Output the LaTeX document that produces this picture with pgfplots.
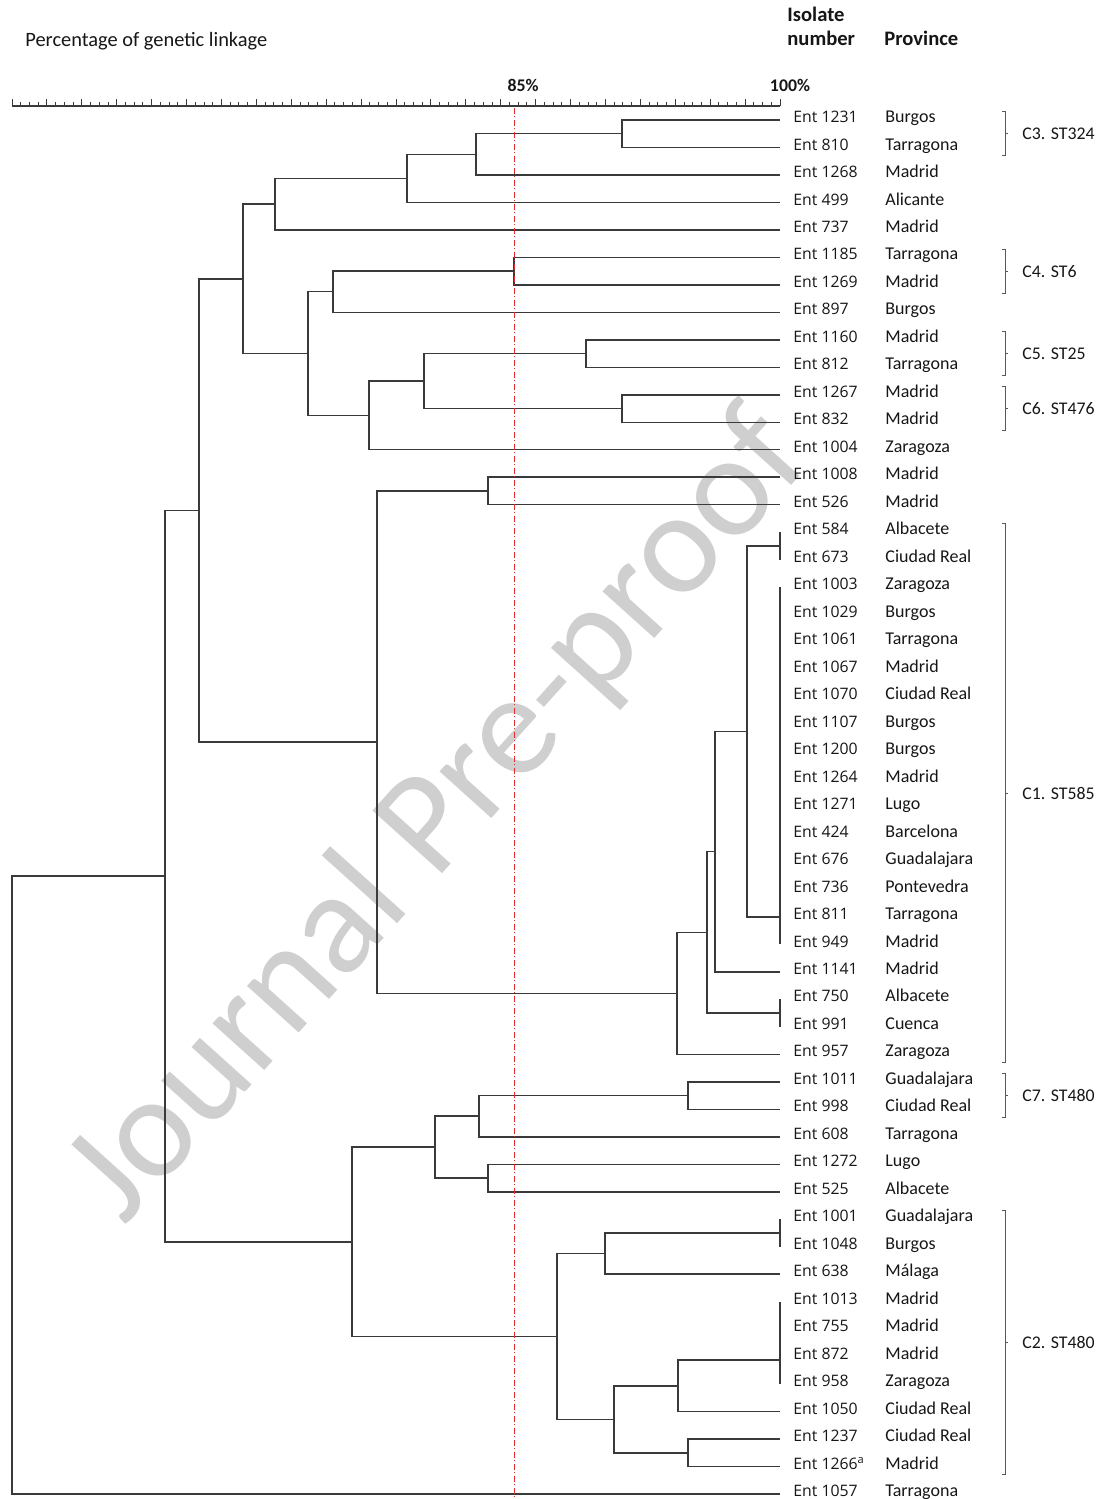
\documentclass[border=0pt]{standalone}
\usepackage{fontspec}
\setmainfont{Carlito}
\newfontfamily\entfont{Open Sans}
\usepackage{pgfplots}
\pgfplotsset{compat=1.18}
\definecolor{cut}{RGB}{222,45,45}
\definecolor{ln}{RGB}{58,58,58}
\definecolor{txt}{RGB}{22,22,22}
\newcommand\leaf[3]{%
  \node[entlab] at (axis cs:100,-#1) {#2};
  \node[provlab] at (axis cs:100,-#1) {#3};}
\newcommand\clbr[4]{%
  \draw[brk] ([xshift=111pt]axis cs:100,#1) -- ([xshift=112.5pt]axis cs:100,#1) -- ([xshift=112.5pt]axis cs:100,#2) -- ([xshift=111pt]axis cs:100,#2);
  \draw[brk] ([xshift=112.5pt]axis cs:100,#3) -- ([xshift=114pt]axis cs:100,#3);
  \node[cllab] at ([xshift=121pt]axis cs:100,#3) {#4};}
\begin{document}
\begin{tikzpicture}[
  entlab/.style={anchor=base west, xshift=6.5pt, yshift=-1.3pt, text=txt, inner sep=0pt, font=\entfont\fontsize{7.9}{9}\selectfont},
  provlab/.style={anchor=base west, xshift=52.5pt, yshift=-1.3pt, text=txt, inner sep=0pt, font=\fontsize{9}{10}\selectfont},
  cllab/.style={anchor=west, inner sep=0pt, text=txt, font=\fontsize{8.9}{10}\selectfont},
  brk/.style={draw=black!65, line width=0.5pt},
  dendro/.style={color=ln, line width=0.75pt, mark=none, line join=miter}
]
\begin{axis}[
  name=ax, scale only axis, width=384pt, height=696.5pt,
  xmin=56.689, xmax=100, ymin=-50.18, ymax=0.509,
  axis x line*=top, axis y line=none,
  x axis line style={-, line width=0.75pt, color=ln},
  xtick={56.6899,58.6586,60.6272,62.5958,64.5645,66.5331,68.5018,70.4704,72.4390,74.4077,76.3763,78.3450,80.3136,82.2822,84.2509,86.2195,88.1882,90.1568,92.1254,94.0941,96.0627,98.0314,100},
  minor xtick={57.1821,57.6742,58.1664,59.1507,59.6429,60.1350,61.1193,61.6115,62.1037,63.0880,63.5801,64.0723,65.0566,65.5488,66.0409,67.0253,67.5174,68.0096,68.9939,69.4861,69.9782,70.9625,71.4547,71.9469,72.9312,73.4233,73.9155,74.8998,75.3920,75.8841,76.8685,77.3606,77.8528,78.8371,79.3293,79.8214,80.8057,81.2979,81.7901,82.7744,83.2665,83.7587,84.7430,85.2352,85.7273,86.7117,87.2038,87.6960,88.6803,89.1725,89.6646,90.6489,91.1411,91.6333,92.6176,93.1097,93.6019,94.5862,95.0784,95.5705,96.5549,97.0470,97.5392,98.5235,99.0157,99.5078},
  xticklabels={},
  tick align=outside, major tick length=3.5pt, minor tick length=2pt,
  tick style={color=ln, line width=0.5pt},
  clip=false,
]
% watermark
\node[rotate=48, text=black!19, inner sep=0pt, font=\fontsize{73}{73}\selectfont] at (axis cs:80.83,-25.4) {Journal Pre-proof};

% dendrogram
\addplot[dendro] coordinates {(100,0) (91.09,0) (91.09,-1) (100,-1)};
\addplot[dendro] coordinates {(91.09,-0.5) (82.86,-0.5) (82.86,-2) (100,-2)};
\addplot[dendro] coordinates {(82.86,-1.25) (78.97,-1.25) (78.97,-3) (100,-3)};
\addplot[dendro] coordinates {(78.97,-2.125) (71.52,-2.125) (71.52,-4) (100,-4)};
\addplot[dendro] coordinates {(100,-5) (85,-5) (85,-6) (100,-6)};
\addplot[dendro] coordinates {(85,-5.5) (74.79,-5.5) (74.79,-7) (100,-7)};
\addplot[dendro] coordinates {(100,-8) (89.06,-8) (89.06,-9) (100,-9)};
\addplot[dendro] coordinates {(100,-10) (91.09,-10) (91.09,-11) (100,-11)};
\addplot[dendro] coordinates {(89.06,-8.5) (79.92,-8.5) (79.92,-10.5) (91.09,-10.5)};
\addplot[dendro] coordinates {(79.92,-9.5) (76.82,-9.5) (76.82,-12) (100,-12)};
\addplot[dendro] coordinates {(74.79,-6.25) (73.38,-6.25) (73.38,-10.75) (76.82,-10.75)};
\addplot[dendro] coordinates {(71.52,-3.0625) (69.72,-3.0625) (69.72,-8.5) (73.38,-8.5)};
\addplot[dendro] coordinates {(100,-13) (83.53,-13) (83.53,-14) (100,-14)};
\addplot[dendro] coordinates {(100,-15) (100,-16)};
\addplot[dendro] coordinates {(100,-17) (100,-30)};
\addplot[dendro] coordinates {(100,-15.5) (98.14,-15.5) (98.14,-29) (100,-29)};
\addplot[dendro] coordinates {(98.14,-22.25) (96.33,-22.25) (96.33,-31) (100,-31)};
\addplot[dendro] coordinates {(100,-32) (100,-33)};
\addplot[dendro] coordinates {(96.33,-26.625) (95.88,-26.625) (95.88,-32.5) (100,-32.5)};
\addplot[dendro] coordinates {(95.88,-29.5625) (94.19,-29.5625) (94.19,-34) (100,-34)};
\addplot[dendro] coordinates {(83.53,-13.5) (77.27,-13.5) (77.27,-31.78125) (94.19,-31.78125)};
\addplot[dendro] coordinates {(69.72,-5.78125) (67.24,-5.78125) (67.24,-22.640625) (77.27,-22.640625)};
\addplot[dendro] coordinates {(100,-35) (94.81,-35) (94.81,-36) (100,-36)};
\addplot[dendro] coordinates {(94.81,-35.5) (83.03,-35.5) (83.03,-37) (100,-37)};
\addplot[dendro] coordinates {(100,-38) (83.53,-38) (83.53,-39) (100,-39)};
\addplot[dendro] coordinates {(83.03,-36.25) (80.54,-36.25) (80.54,-38.5) (83.53,-38.5)};
\addplot[dendro] coordinates {(100,-40) (100,-41)};
\addplot[dendro] coordinates {(100,-40.5) (90.13,-40.5) (90.13,-42) (100,-42)};
\addplot[dendro] coordinates {(100,-43) (100,-46)};
\addplot[dendro] coordinates {(100,-45.125) (94.25,-45.125) (94.25,-47) (100,-47)};
\addplot[dendro] coordinates {(100,-48) (94.81,-48) (94.81,-49) (100,-49)};
\addplot[dendro] coordinates {(94.25,-46.0625) (90.64,-46.0625) (90.64,-48.5) (94.81,-48.5)};
\addplot[dendro] coordinates {(90.13,-41.25) (87.42,-41.25) (87.42,-47.28125) (90.64,-47.28125)};
\addplot[dendro] coordinates {(80.54,-37.375) (75.86,-37.375) (75.86,-44.265625) (87.42,-44.265625)};
\addplot[dendro] coordinates {(67.24,-14.2109375) (65.32,-14.2109375) (65.32,-40.8203125) (75.86,-40.8203125)};
\addplot[dendro] coordinates {(65.32,-27.515625) (56.69,-27.515625) (56.69,-50) (100,-50)};

% cut-off line
\addplot[color=cut, line width=0.5pt, dash pattern=on 3pt off 1.2pt on 0.6pt off 1.2pt] coordinates {(85,0.44) (85,-50.18)};

% header texts
\node[anchor=base west, inner sep=0pt, text=txt, font=\fontsize{10.2}{12}\selectfont] at ([xshift=-377.5pt, yshift=36.5pt]axis cs:100,0) {Percentage of genetic linkage};
\node[anchor=base west, inner sep=0pt, text=txt, font=\bfseries\fontsize{10.3}{12}\selectfont] at ([xshift=3.5pt, yshift=49.2pt]axis cs:100,0) {Isolate};
\node[anchor=base west, inner sep=0pt, text=txt, font=\bfseries\fontsize{10.3}{12}\selectfont] at ([xshift=3.5pt, yshift=37pt]axis cs:100,0) {number};
\node[anchor=base west, inner sep=0pt, text=txt, font=\bfseries\fontsize{10.3}{12}\selectfont] at ([xshift=52pt, yshift=37pt]axis cs:100,0) {Province};
\node[anchor=base, inner sep=0pt, text=txt, font=\bfseries\fontsize{8.9}{10}\selectfont] at ([xshift=4.5pt, yshift=14.2pt]axis cs:85,0) {85\%};
\node[anchor=base, inner sep=0pt, text=txt, font=\bfseries\fontsize{8.9}{10}\selectfont] at ([xshift=5pt, yshift=14.2pt]axis cs:100,0) {100\%};

% leaves
\leaf{0}{Ent 1231}{Burgos}
\leaf{1}{Ent 810}{Tarragona}
\leaf{2}{Ent 1268}{Madrid}
\leaf{3}{Ent 499}{Alicante}
\leaf{4}{Ent 737}{Madrid}
\leaf{5}{Ent 1185}{Tarragona}
\leaf{6}{Ent 1269}{Madrid}
\leaf{7}{Ent 897}{Burgos}
\leaf{8}{Ent 1160}{Madrid}
\leaf{9}{Ent 812}{Tarragona}
\leaf{10}{Ent 1267}{Madrid}
\leaf{11}{Ent 832}{Madrid}
\leaf{12}{Ent 1004}{Zaragoza}
\leaf{13}{Ent 1008}{Madrid}
\leaf{14}{Ent 526}{Madrid}
\leaf{15}{Ent 584}{Albacete}
\leaf{16}{Ent 673}{Ciudad Real}
\leaf{17}{Ent 1003}{Zaragoza}
\leaf{18}{Ent 1029}{Burgos}
\leaf{19}{Ent 1061}{Tarragona}
\leaf{20}{Ent 1067}{Madrid}
\leaf{21}{Ent 1070}{Ciudad Real}
\leaf{22}{Ent 1107}{Burgos}
\leaf{23}{Ent 1200}{Burgos}
\leaf{24}{Ent 1264}{Madrid}
\leaf{25}{Ent 1271}{Lugo}
\leaf{26}{Ent 424}{Barcelona}
\leaf{27}{Ent 676}{Guadalajara}
\leaf{28}{Ent 736}{Pontevedra}
\leaf{29}{Ent 811}{Tarragona}
\leaf{30}{Ent 949}{Madrid}
\leaf{31}{Ent 1141}{Madrid}
\leaf{32}{Ent 750}{Albacete}
\leaf{33}{Ent 991}{Cuenca}
\leaf{34}{Ent 957}{Zaragoza}
\leaf{35}{Ent 1011}{Guadalajara}
\leaf{36}{Ent 998}{Ciudad Real}
\leaf{37}{Ent 608}{Tarragona}
\leaf{38}{Ent 1272}{Lugo}
\leaf{39}{Ent 525}{Albacete}
\leaf{40}{Ent 1001}{Guadalajara}
\leaf{41}{Ent 1048}{Burgos}
\leaf{42}{Ent 638}{Málaga}
\leaf{43}{Ent 1013}{Madrid}
\leaf{44}{Ent 755}{Madrid}
\leaf{45}{Ent 872}{Madrid}
\leaf{46}{Ent 958}{Zaragoza}
\leaf{47}{Ent 1050}{Ciudad Real}
\leaf{48}{Ent 1237}{Ciudad Real}
\leaf{49}{Ent 1266\textsuperscript{a}}{Madrid}
\leaf{50}{Ent 1057}{Tarragona}

% cluster brackets
\clbr{0.3}{-1.3}{-0.5}{C3. ST324}
\clbr{-4.7}{-6.3}{-5.5}{C4. ST6}
\clbr{-7.7}{-9.3}{-8.5}{C5. ST25}
\clbr{-9.7}{-11.3}{-10.5}{C6. ST476}
\clbr{-14.7}{-34.3}{-24.5}{C1. ST585}
\clbr{-34.7}{-36.3}{-35.5}{C7. ST480}
\clbr{-39.7}{-49.3}{-44.5}{C2. ST480}

\coordinate (SW) at (axis cs:56.689,-50.18);
\end{axis}
\pgfresetboundingbox
\path[use as bounding box] ([xshift=-6pt]SW) rectangle ([xshift=544.5pt,yshift=749.5pt]SW);
\end{tikzpicture}
\end{document}
